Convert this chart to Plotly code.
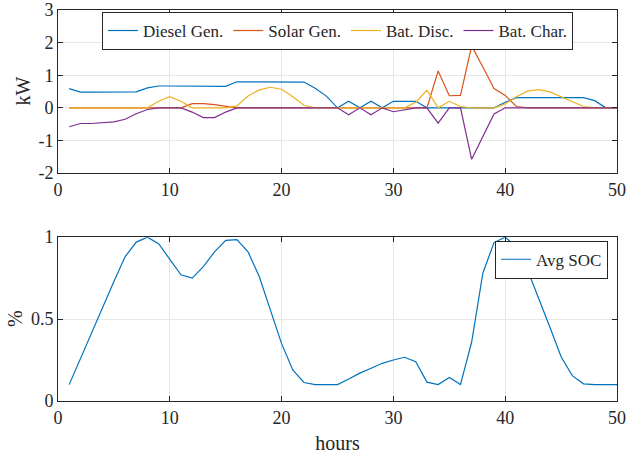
import plotly.graph_objects as go

hours = list(range(1, 51))

diesel_gen = [0.59, 0.48, 0.48, 0.48, 0.48, 0.48, 0.49, 0.61, 0.67, 0.67,
              0.67, 0.66, 0.66, 0.66, 0.66, 0.80, 0.80, 0.81, 0.81, 0.81,
              0.80, 0.79, 0.60, 0.36, 0.0, 0.2, 0.0, 0.2, 0.0, 0.2,
              0.2, 0.2, 0.0, 0.0, 0.0, 0.0, 0.0, 0.0, 0.0, 0.17,
              0.31, 0.31, 0.31, 0.31, 0.31, 0.31, 0.31, 0.22, 0.0, 0.0]

solar_gen = [0, 0, 0, 0, 0, 0, 0, 0, 0, 0,
             0.0, 0.13, 0.13, 0.10, 0.06, 0.0, 0, 0, 0, 0,
             0, 0, 0, 0, 0, 0, 0, 0, 0, 0,
             0, 0, 0.0, 1.13, 0.37, 0.38, 1.90, 1.25, 0.59, 0.38,
             0.04, 0, 0, 0, 0, 0, 0, 0, 0, 0]

bat_disc = [0, 0, 0, 0, 0, 0, 0, 0, 0.20, 0.34,
            0.20, 0.0, 0, 0, 0, 0.06, 0.36, 0.55, 0.63, 0.57,
            0.34, 0.08, 0, 0, 0, 0, 0, 0, 0, 0,
            0, 0.17, 0.54, 0.0, 0.20, 0.04, 0, 0, 0, 0.12,
            0.34, 0.51, 0.56, 0.49, 0.34, 0.17, 0.04, 0, 0, 0]

bat_char = [-0.58, -0.48, -0.48, -0.46, -0.43, -0.35, -0.18, -0.05, 0, 0,
            0, -0.13, -0.30, -0.30, -0.13, 0, 0, 0, 0, 0,
            0, 0, 0, 0, 0, -0.21, 0, -0.21, 0, -0.12,
            -0.05, 0, 0, -0.47, 0, 0, -1.58, -0.89, -0.19, 0,
            0, 0, 0, 0, 0, 0, 0, 0, 0, 0]

avg_soc = [0.10, 0.26, 0.42, 0.57, 0.73, 0.88, 0.97, 1.00, 0.96, 0.865,
           0.77, 0.75, 0.82, 0.91, 0.98, 0.985, 0.91, 0.76, 0.55, 0.35,
           0.19, 0.113, 0.10, 0.10, 0.10, 0.134, 0.17, 0.20, 0.23, 0.25,
           0.267, 0.24, 0.115, 0.10, 0.144, 0.10, 0.36, 0.78, 0.967, 1.00,
           0.94, 0.80, 0.63, 0.45, 0.27, 0.155, 0.105, 0.10, 0.10, 0.10]

x_ticks = [0, 10, 20, 30, 40, 50]
kw_ticks = [-2, -1, 0, 1, 2, 3]
kw_tick_labels = ["-2", "-1", "0", "1", "2", "3"]
soc_ticks = [0, 0.5, 1]
soc_tick_labels = ["0", "0.5", "1"]

FONT = "Liberation Serif, Times New Roman, serif"
TXT = "#262626"
colors = ["#0072BD", "#D95319", "#EDB120", "#7E2F8E"]

fig = go.Figure()
top_series = [("Diesel Gen.", diesel_gen), ("Solar Gen.", solar_gen),
              ("Bat. Disc.", bat_disc), ("Bat. Char.", bat_char)]
for (name, vals), c in zip(top_series, colors):
    fig.add_trace(go.Scatter(x=hours, y=vals, mode="lines", name=name,
                             line=dict(color=c, width=1.2),
                             xaxis="x", yaxis="y", legend="legend"))
fig.add_trace(go.Scatter(x=hours, y=avg_soc, mode="lines", name="Avg SOC",
                         line=dict(color=colors[0], width=1.2),
                         xaxis="x2", yaxis="y2", legend="legend2"))

axis_common = dict(showline=True, linecolor=TXT, linewidth=1, mirror="ticks",
                   ticks="inside", ticklen=5, tickcolor=TXT, tickwidth=1,
                   showgrid=True, gridcolor="#e6e6e6", gridwidth=1,
                   zeroline=False, automargin=False,
                   tickfont=dict(family=FONT, size=18, color=TXT))

fig.update_layout(
    width=628, height=456,
    margin=dict(l=58, r=11, t=10, b=55),
    paper_bgcolor="white", plot_bgcolor="white",
    font=dict(family=FONT, color=TXT),
    xaxis=dict(domain=[0, 1], range=[0, 50], tickvals=x_ticks, anchor="y", **axis_common),
    yaxis=dict(domain=[0.583, 1], range=[-2, 3], tickvals=kw_ticks, ticktext=kw_tick_labels,
               anchor="x", **axis_common),
    xaxis2=dict(domain=[0, 1], range=[0, 50], tickvals=x_ticks, anchor="y2",
                title=dict(text="hours", font=dict(family=FONT, size=20, color=TXT), standoff=9),
                **axis_common),
    yaxis2=dict(domain=[0, 0.419], range=[0, 1], tickvals=soc_ticks, ticktext=soc_tick_labels,
                anchor="x2", **axis_common),
    legend=dict(orientation="h", x=0.5, xanchor="center", y=0.995, yanchor="top",
                bgcolor="white", bordercolor=TXT, borderwidth=1,
                font=dict(family=FONT, size=17, color=TXT)),
    legend2=dict(orientation="h", x=0.984, xanchor="right", y=0.41, yanchor="top",
                 bgcolor="white", bordercolor=TXT, borderwidth=1,
                 font=dict(family=FONT, size=17, color=TXT)),
    showlegend=True,
    annotations=[
        dict(text="kW", textangle=-90, xref="x domain", yref="y domain",
             x=-0.0626, y=0.5, xanchor="center", yanchor="middle", showarrow=False,
             font=dict(family=FONT, size=20, color=TXT)),
        dict(text="%", textangle=-90, xref="x2 domain", yref="y2 domain",
             x=-0.0769, y=0.5, xanchor="center", yanchor="middle", showarrow=False,
             font=dict(family=FONT, size=20, color=TXT)),
    ],
)

fig.write_html("out.html")
